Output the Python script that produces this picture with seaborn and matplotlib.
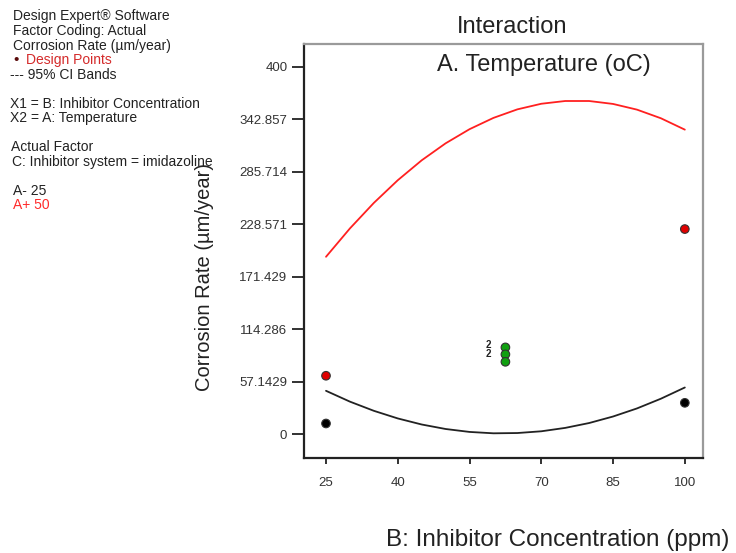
import matplotlib
matplotlib.use("Agg")
import matplotlib.pyplot as plt
import pandas as pd
import seaborn as sns

# ---- data ----
conc = [25, 30, 35, 40, 45, 50, 55, 60, 65, 70, 75, 80, 85, 90, 95, 100]
rate_low = [47.2, 35.4, 25.4, 17.1, 10.5, 5.6, 2.4, 0.9, 1.2, 3.1, 6.8, 12.1, 19.2, 28.0, 38.6, 50.8]
rate_high = [193.2, 224.1, 251.9, 276.6, 298.3, 316.8, 332.2, 344.5, 353.8, 359.9, 362.9, 362.9, 359.7, 353.5, 344.1, 331.7]

pt_conc_low = [25, 100]
pt_rate_low = [11.6, 34.1]
pt_conc_high = [25, 100]
pt_rate_high = [63.6, 223.4]
pt_conc_center = [62.5, 62.5, 62.5]
pt_rate_center = [94.5, 86.9, 78.8]

count_conc = [59.0, 59.0]
count_rate = [97.0, 87.5]
count_text = ["2", "2"]

x_ticks = [25, 40, 55, 70, 85, 100]
x_tick_labels = ["25", "40", "55", "70", "85", "100"]
y_ticks = [0, 57.1429, 114.286, 171.429, 228.571, 285.714, 342.857, 400]
y_tick_labels = ["0", "57.1429", "114.286", "171.429", "228.571", "285.714", "342.857", "400"]

info_lines = [
    ("Design Expert\u00ae Software", "#222222", 13, 16),
    ("Factor Coding: Actual", "#222222", 13, 31),
    ("Corrosion Rate (\u00b5m/year)", "#222222", 13, 46),
    ("Design Points", "#d42a2a", 26, 60),
    ("--- 95% CI Bands", "#222222", 10, 75),
    ("X1 = B: Inhibitor Concentration", "#222222", 10, 104),
    ("X2 = A: Temperature", "#222222", 10, 118),
    ("Actual Factor", "#222222", 11, 147),
    ("C: Inhibitor system = imidazoline", "#222222", 12, 162),
    ("A- 25", "#222222", 13, 191),
    ("A+ 50", "#ff2a2a", 13, 205),
]

# ---- build tables ----
curves = pd.DataFrame({
    "conc": conc + conc,
    "rate": rate_low + rate_high,
    "level": ["A-"] * len(conc) + ["A+"] * len(conc),
})
points = pd.DataFrame({
    "conc": pt_conc_low + pt_conc_high + pt_conc_center,
    "rate": pt_rate_low + pt_rate_high + pt_rate_center,
    "group": ["low"] * len(pt_conc_low) + ["high"] * len(pt_conc_high) + ["center"] * len(pt_conc_center),
})

sns.set_style("white")
plt.rcParams["font.family"] = ["Liberation Sans", "DejaVu Sans"]

W, H = 736, 553
fig = plt.figure(figsize=(W / 100, H / 100), dpi=100)
ax = fig.add_axes([304 / W, 1 - 458 / H, (703 - 304) / W, (458 - 44) / H])

sns.lineplot(data=curves, x="conc", y="rate", hue="level",
             palette={"A-": "#222222", "A+": "#ff2020"}, linewidth=1.3,
             legend=False, ax=ax)
sns.scatterplot(data=points, x="conc", y="rate", hue="group",
                palette={"low": "#000000", "high": "#e00000", "center": "#10a010"},
                s=38, edgecolor="#333333", linewidth=0.8, legend=False, ax=ax, zorder=5)

for cx, cy, t in zip(count_conc, count_rate, count_text):
    ax.text(cx, cy, t, fontsize=7, fontweight="bold", color="#222222",
            ha="center", va="center")

ax.set_xlim(20.4, 103.8)
ax.set_ylim(-26, 425)
ax.set_xticks(x_ticks)
ax.set_xticklabels(x_tick_labels)
ax.set_yticks(y_ticks)
ax.set_yticklabels(y_tick_labels)
ax.set_xlabel("")
ax.set_ylabel("")

ax.tick_params(axis="y", which="both", direction="out", length=9, width=1.3,
               color="#222222", pad=3, labelsize=9.5, labelcolor="#333333", left=True)
ax.tick_params(axis="x", which="both", direction="out", length=4.5, width=1.3,
               color="#222222", pad=9, labelsize=9.5, labelcolor="#333333", bottom=True)

for side in ["left", "bottom"]:
    ax.spines[side].set_color("#222222")
    ax.spines[side].set_linewidth(1.6)
for side in ["top", "right"]:
    ax.spines[side].set_color("#9a9a9a")
    ax.spines[side].set_linewidth(1.6)

# titles and axis labels
fig.text(512 / W, 1 - 27 / H, "Interaction", fontsize=17, color="#222222",
         ha="center", va="center")
fig.text(544 / W, 1 - 65 / H, "A. Temperature (oC)", fontsize=17, color="#222222",
         ha="center", va="center")
fig.text(205 / W, 1 - 277 / H, "Corrosion Rate (\u00b5m/year)", fontsize=14.5,
         color="#222222", rotation=90, ha="center", va="center")
fig.text(386 / W, 1 - 540 / H, "B: Inhibitor Concentration (ppm)", fontsize=17.5,
         color="#222222", ha="left", va="center")

# left information panel
for txt, col, xp, yp in info_lines:
    fig.text(xp / W, 1 - yp / H, txt, fontsize=10, color=col, ha="left", va="center")
fig.text(13 / W, 1 - 60 / H, "\u2022", fontsize=11, color="#5a0a0a", ha="left", va="center")

fig.savefig("out.png", dpi=100)
